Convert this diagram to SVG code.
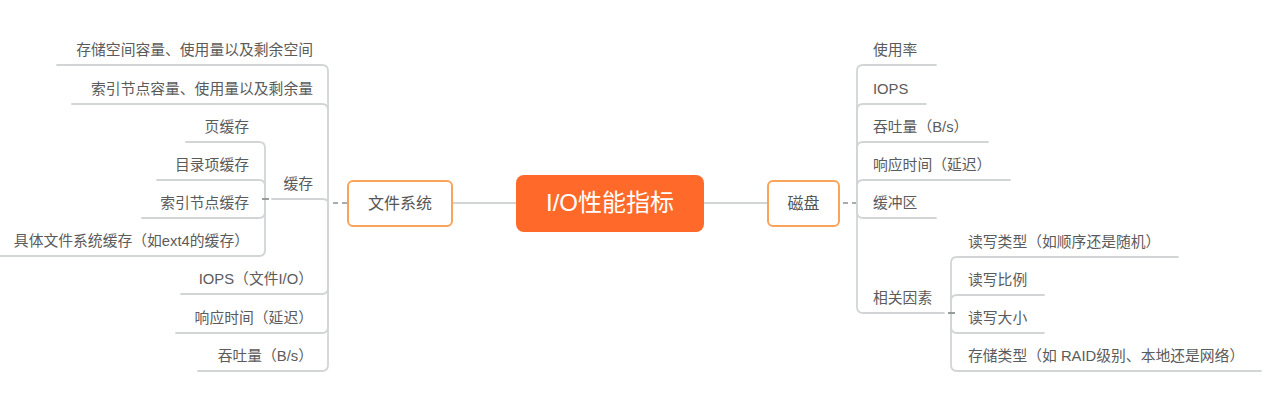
<svg xmlns="http://www.w3.org/2000/svg" width="1278" height="415" viewBox="0 0 1278 415">
<style>
.bg{fill:#ffffff}
.ln{fill:none;stroke:#d2d5d6;stroke-width:1.8;stroke-linecap:round}
.dash{fill:none;stroke:#a9acae;stroke-width:1.8;stroke-dasharray:5 4}
.tick{fill:none;stroke:#8f9294;stroke-width:1.8}
.t{font-family:"Liberation Sans","Noto Sans CJK SC",sans-serif;font-size:14.8px;fill:#5b5b5b}
.r{text-anchor:end}
.mainbox{fill:#ffffff;stroke:#f8a45a;stroke-width:2}
.mt{font-family:"Liberation Sans","Noto Sans CJK SC",sans-serif;font-size:16px;fill:#555555;text-anchor:middle}
.root{fill:#ff6a2a}
.rt{font-family:"Liberation Sans","Noto Sans CJK SC",sans-serif;font-size:24px;fill:#ffffff;text-anchor:middle}
</style>
<rect class="bg" x="0" y="0" width="1278" height="415"/>
<g id="connectors">
  <path class="ln" d="M452,203 H516"/>
  <path class="ln" d="M704,203 H768"/>
  <path class="dash" d="M347,203 H330"/>
  <path class="dash" d="M843,203 H856"/>
  <!-- left trunk -->
  <path class="ln" d="M328,203 V71 Q328,65 322,65 H57"/>
  <path class="ln" d="M328,203 V110 Q328,104 322,104 H72"/>
  <path class="ln" d="M328,203 Q328,199 322,199 H272"/>
  <path class="ln" d="M328,203 V288 Q328,294 322,294 H181"/>
  <path class="ln" d="M328,203 V327 Q328,333 322,333 H176"/>
  <path class="ln" d="M328,203 V365 Q328,371 322,371 H198"/>
  <!-- cache sub trunk -->
  <path class="ln" d="M265,199 V148 Q265,142 259,142 H186"/>
  <path class="ln" d="M265,199 V186 Q265,180 259,180 H157"/>
  <path class="ln" d="M265,199 V212 Q265,218 259,218 H142"/>
  <path class="ln" d="M265,199 V250 Q265,256 259,256 H0"/>
  <path class="tick" d="M262,199 H269"/>
  <!-- right trunk -->
  <path class="ln" d="M857,203 V71 Q857,65 863,65 H936"/>
  <path class="ln" d="M857,203 V110 Q857,104 863,104 H926"/>
  <path class="ln" d="M857,203 V148 Q857,142 863,142 H988"/>
  <path class="ln" d="M857,203 V186 Q857,180 863,180 H1010"/>
  <path class="ln" d="M857,203 V212 Q857,218 863,218 H936"/>
  <path class="ln" d="M857,203 V307 Q857,313 863,313 H944"/>
  <!-- factors sub trunk -->
  <path class="ln" d="M951,313 V263 Q951,257 957,257 H1178"/>
  <path class="ln" d="M951,313 V301 Q951,295 957,295 H1044"/>
  <path class="ln" d="M951,313 V327 Q951,333 957,333 H1044"/>
  <path class="ln" d="M951,313 V365 Q951,371 957,371 H1261"/>
  <path class="tick" d="M948,313 H955"/>
</g>
<g id="root">
  <rect class="root" x="516" y="175" width="188" height="57" rx="8"/>
  <text class="rt" x="610" y="211">I/O性能指标</text>
</g>
<g id="fs">
  <rect class="mainbox" x="348" y="181" width="104" height="45" rx="5"/>
  <text class="mt" x="400" y="209">文件系统</text>
</g>
<g id="disk">
  <rect class="mainbox" x="768" y="181" width="71" height="45" rx="5"/>
  <text class="mt" x="803.5" y="209">磁盘</text>
</g>
<g id="fs-items">
  <text class="t r" x="313" y="55">存储空间容量、使用量以及剩余空间</text>
  <text class="t r" x="313" y="94">索引节点容量、使用量以及剩余量</text>
  <text class="t r" x="313" y="189">缓存</text>
  <text class="t r" x="313" y="284">IOPS（文件I/O）</text>
  <text class="t r" x="313" y="323">响应时间（延迟）</text>
  <text class="t r" x="313" y="361">吞吐量（B/s）</text>
</g>
<g id="cache-items">
  <text class="t r" x="249" y="132">页缓存</text>
  <text class="t r" x="249" y="170">目录项缓存</text>
  <text class="t r" x="249" y="208">索引节点缓存</text>
  <text class="t r" x="249" y="246">具体文件系统缓存（如ext4的缓存）</text>
</g>
<g id="disk-items">
  <text class="t" x="873" y="55">使用率</text>
  <text class="t" x="873" y="94">IOPS</text>
  <text class="t" x="873" y="132">吞吐量（B/s）</text>
  <text class="t" x="873" y="170">响应时间（延迟）</text>
  <text class="t" x="873" y="208">缓冲区</text>
  <text class="t" x="873" y="303">相关因素</text>
</g>
<g id="factor-items">
  <text class="t" x="968" y="247">读写类型（如顺序还是随机）</text>
  <text class="t" x="968" y="285">读写比例</text>
  <text class="t" x="968" y="323">读写大小</text>
  <text class="t" x="968" y="361">存储类型（如 RAID级别、本地还是网络）</text>
</g>
</svg>
